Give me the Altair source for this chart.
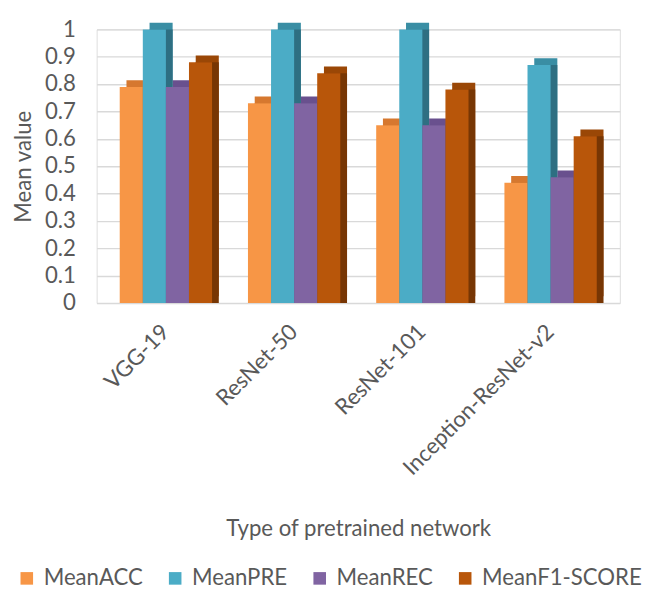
import altair as alt
import pandas as pd

networks = ["VGG-19", "ResNet-50", "ResNet-101", "Inception-ResNet-v2"]
metrics = ["MeanACC", "MeanPRE", "MeanREC", "MeanF1-SCORE"]
mean_acc = [0.79, 0.73, 0.65, 0.44]
mean_pre = [1.00, 1.00, 1.00, 0.87]
mean_rec = [0.79, 0.73, 0.65, 0.46]
mean_f1 = [0.88, 0.84, 0.78, 0.61]

colors = ["#F79646", "#4BACC6", "#8064A2", "#B8560A"]
top_colors = ["#D6782F", "#3A8EA4", "#69508E", "#9A4706"]
side_colors = ["#B3621F", "#2E6F82", "#54407A", "#773604"]

rows = []
for i, n in enumerate(networks):
    for m, vals in zip(metrics, [mean_acc, mean_pre, mean_rec, mean_f1]):
        rows.append({"network": n, "metric": m, "value": vals[i]})
df = pd.DataFrame(rows)

FONT = "Lato"
GRAY = "#595959"
FS = 23

W, H = 543, 284
P_IN, P_OUT = 0.28, 0.18
step = W / (len(networks) - P_IN + 2 * P_OUT)
bw = step * (1 - P_IN)
DEPTH = 7

x_enc = alt.X("network:N", sort=networks,
              scale=alt.Scale(paddingInner=P_IN, paddingOuter=P_OUT),
              axis=alt.Axis(title="Type of pretrained network", labelAngle=-45,
                            labelAlign="right", labelBaseline="middle", labelLimit=400,
                            labelFontSize=FS, titleFontSize=FS, labelColor=GRAY,
                            titleColor=GRAY, titleFontWeight="normal",
                            domain=False, ticks=False, labelPadding=26,
                            titlePadding=40, labelFont=FONT, titleFont=FONT))
y_enc = alt.Y("value:Q", scale=alt.Scale(domain=[0, 1]),
              axis=alt.Axis(title="Mean value", values=[i / 10 for i in range(11)],
                            labelExpr="datum.value == 0 ? '0' : datum.value == 1 ? '1' : format(datum.value, '.1f')",
                            labelFontSize=FS, titleFontSize=FS, labelColor=GRAY,
                            titleColor=GRAY, titleFontWeight="normal",
                            domain=False, ticks=False, labelPadding=22,
                            titlePadding=10, gridColor="#D9D9D9", gridWidth=1.5,
                            labelFont=FONT, titleFont=FONT))

def offset_enc(shift):
    return alt.XOffset("metric:N", sort=metrics,
                       scale=alt.Scale(range=[shift, bw + shift]))

top_face = alt.Chart(df).mark_bar(yOffset=-DEPTH, y2Offset=-DEPTH).encode(
    x=x_enc, y=y_enc, xOffset=offset_enc(DEPTH),
    color=alt.Color("metric:N", sort=metrics,
                    scale=alt.Scale(domain=metrics, range=top_colors), legend=None),
)

side_face = alt.Chart(df).mark_bar(y2Offset=-DEPTH).encode(
    x=x_enc, y=y_enc, xOffset=offset_enc(DEPTH),
    color=alt.Color("metric:N", sort=metrics,
                    scale=alt.Scale(domain=metrics, range=side_colors), legend=None),
)

front = alt.Chart(df).mark_bar().encode(
    x=x_enc, y=y_enc, xOffset=offset_enc(0),
    color=alt.Color("metric:N", sort=metrics,
                    scale=alt.Scale(domain=metrics, range=colors),
                    legend=alt.Legend(title=None, orient="none", legendX=-84, legendY=558,
                                      direction="horizontal", labelLimit=300,
                                      symbolType="square", symbolSize=170,
                                      symbolStrokeWidth=0, labelFontSize=FS,
                                      labelColor=GRAY, labelFont=FONT,
                                      columnPadding=22, labelOffset=6)),
)

chart = alt.layer(top_face, side_face, front).resolve_scale(
    color="independent", xOffset="independent"
).properties(
    width=W, height=H,
    padding={"left": 4, "top": 0, "right": 0, "bottom": 0},
).configure_view(stroke=None).configure(background="white")

chart.save("out.html", embed_options={"renderer": "svg", "actions": False})
